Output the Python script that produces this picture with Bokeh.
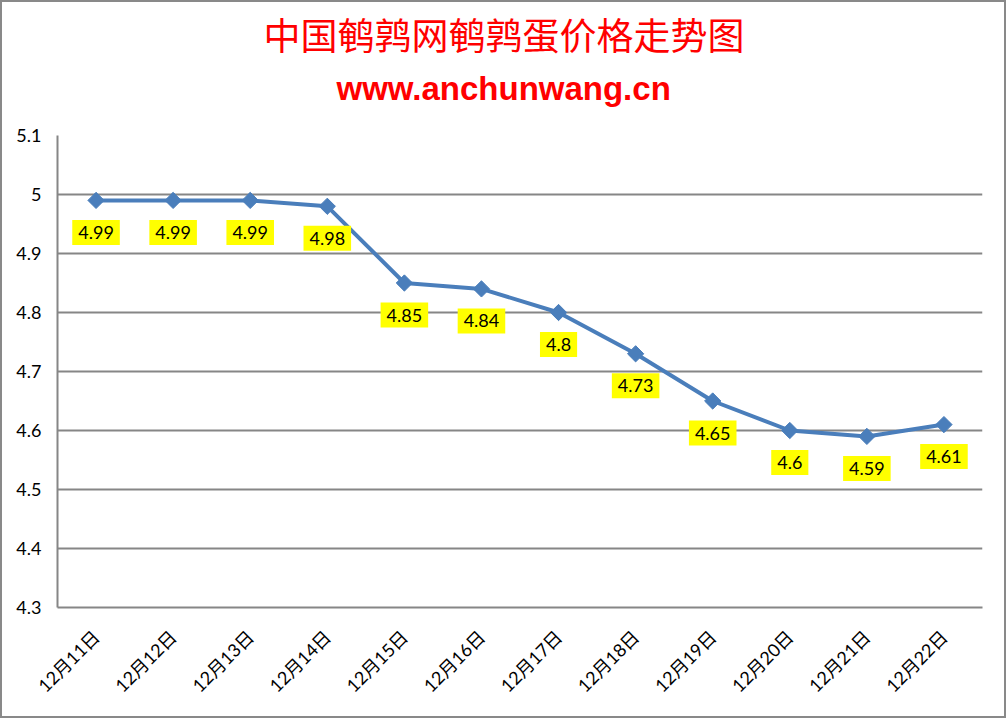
from bokeh.plotting import figure
from bokeh.embed import file_html
from bokeh.resources import INLINE
from bokeh.models import FixedTicker, CustomJSTickFormatter, Title, ColumnDataSource
from bokeh.core.properties import value
import math

dates = ["12月11日", "12月12日", "12月13日", "12月14日", "12月15日", "12月16日",
         "12月17日", "12月18日", "12月19日", "12月20日", "12月21日", "12月22日"]
prices = [4.99, 4.99, 4.99, 4.98, 4.85, 4.84, 4.8, 4.73, 4.65, 4.6, 4.59, 4.61]
y_ticks = [4.3, 4.4, 4.5, 4.6, 4.7, 4.8, 4.9, 5.0, 5.1]
title_text = "中国鹌鹑网鹌鹑蛋价格走势图"
site_text = "www.anchunwang.cn"

xs = list(range(len(dates)))
src = ColumnDataSource(dict(x=xs, y=prices, lab=[("%g" % v) for v in prices]))

p = figure(width=1002, height=714, output_backend="svg", toolbar_location=None,
           x_range=(-0.5, len(dates) - 0.5), y_range=(y_ticks[0], y_ticks[-1]),
           frame_width=925, frame_height=472,
           min_border_left=55, min_border_top=133, min_border_right=22, min_border_bottom=109)
p.styles = {"border": "2px solid #898989"}
p.outline_line_color = None
p.background_fill_color = "white"
p.border_fill_color = "white"

grid_col = "#868686"
p.xgrid.grid_line_color = None
p.ygrid.ticker = FixedTicker(ticks=y_ticks)
p.ygrid.grid_line_color = grid_col
p.ygrid.grid_line_width = 2

p.yaxis.ticker = FixedTicker(ticks=y_ticks)
p.yaxis.formatter = CustomJSTickFormatter(code="return String(Math.round(tick*10)/10);")
p.yaxis.axis_line_color = grid_col
p.yaxis.axis_line_width = 2
p.yaxis.major_tick_line_color = None
p.yaxis.minor_tick_line_color = None
p.yaxis.major_label_standoff = 10
p.yaxis.major_label_text_font = "Lato"
p.yaxis.major_label_text_font_size = "18px"
p.yaxis.major_label_text_color = "black"

p.xaxis.ticker = FixedTicker(ticks=xs)
p.xaxis.major_label_overrides = {i: d for i, d in zip(xs, dates)}
p.xaxis.major_label_orientation = math.pi / 4
p.xaxis.axis_line_color = grid_col
p.xaxis.axis_line_width = 2
p.xaxis.major_tick_line_color = None
p.xaxis.minor_tick_line_color = None
p.xaxis.major_label_standoff = 20
p.xaxis.major_label_text_font = "Lato, 'Noto Sans CJK SC'"
p.xaxis.major_label_text_font_size = "18px"
p.xaxis.major_label_text_color = "black"

line_col = "#4A7EBB"
p.line("x", "y", source=src, line_color=line_col, line_width=4)
p.scatter("x", "y", source=src, marker="square", angle=math.pi / 4, size=11.5,
          fill_color=line_col, line_color=line_col)

p.text("x", "y", text="lab", source=src, y_offset=32, text_align="center", text_baseline="middle",
       text_font=value("Lato"), text_font_size="18px", text_color="black",
       background_fill_color="#FFFF00", padding=6)

has_standoff = "standoff" in Title.properties()
site_extra = {"standoff": 13} if has_standoff else {}
title_extra = {"standoff": 1} if has_standoff else {}

# titles stacked above the frame (first added = closest to frame)
p.add_layout(Title(text=" ", text_font_size="9px"), "above")
p.add_layout(Title(text=site_text, align="left", offset=279,
                   text_font="Liberation Sans", text_font_style="bold", text_font_size="33px",
                   text_color="#FF0000", **site_extra), "above")
p.add_layout(Title(text=title_text, align="left", offset=206,
                   text_font="Noto Sans CJK SC", text_font_style="normal", text_font_size="37px",
                   text_color="#FF0000", **title_extra), "above")

open("out.html", "w").write(file_html(p, INLINE))
